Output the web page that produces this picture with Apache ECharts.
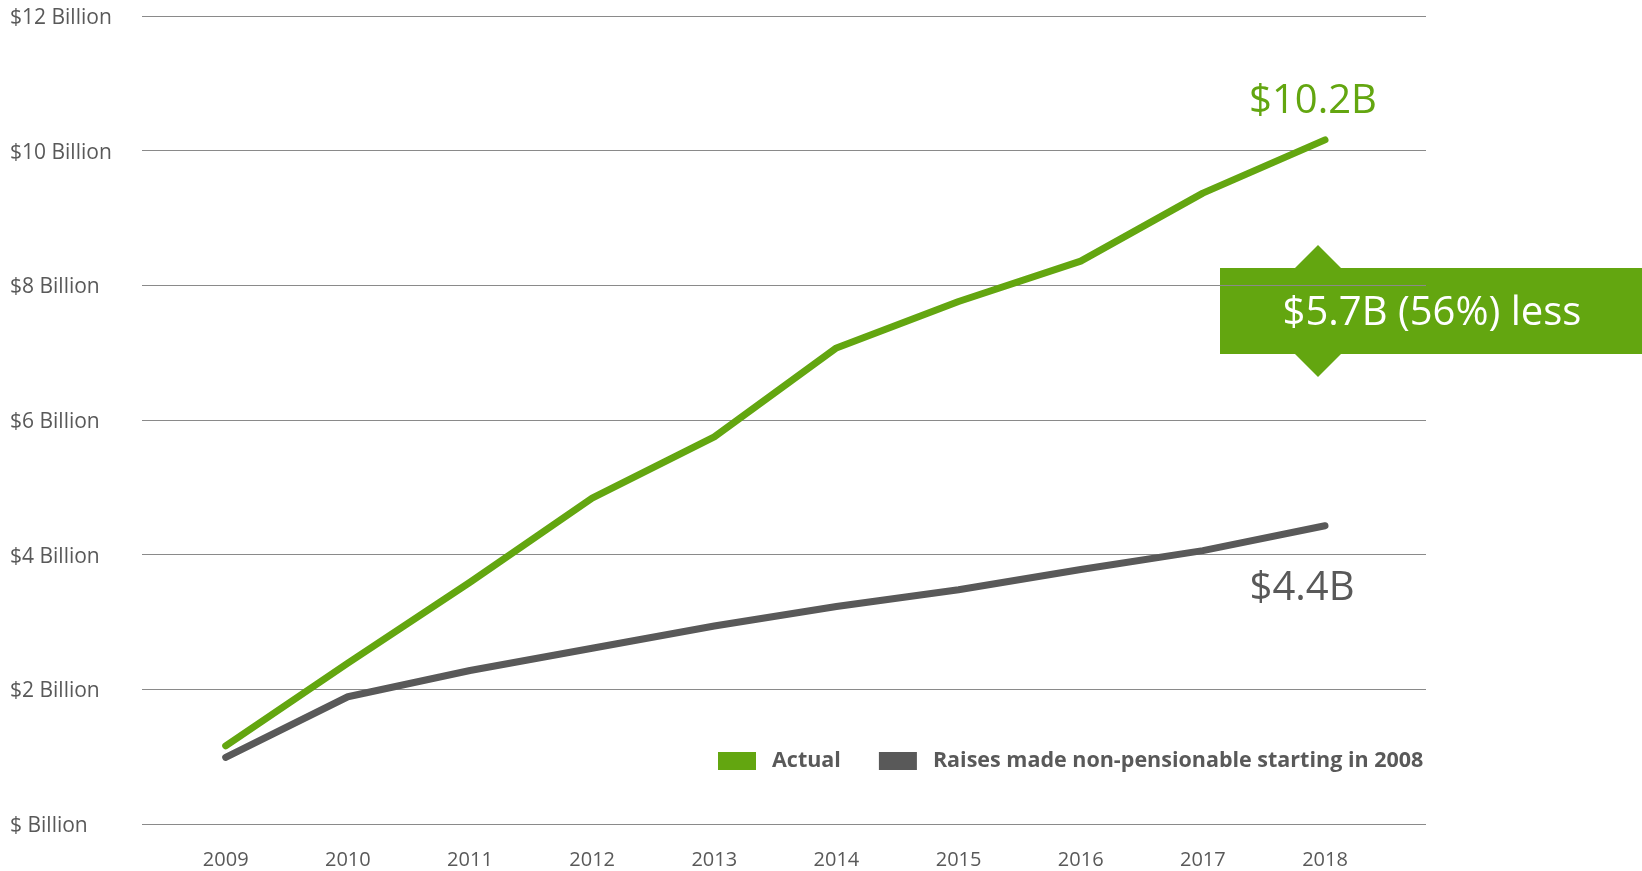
<!DOCTYPE html>
<html>
<head>
<meta charset="utf-8">
<title>Payroll cost: actual vs. non-pensionable raises</title>
<script src="https://cdn.jsdelivr.net/npm/echarts@6/dist/echarts.min.js"></script>
<style>
  html, body { margin: 0; padding: 0; background: #ffffff; }
  #chart { width: 1642px; height: 871px; }
</style>
</head>
<body>
<div id="chart"></div>
<script>
// Fiscal years on the horizontal axis
const years = ['2009', '2010', '2011', '2012', '2013', '2014', '2015', '2016', '2017', '2018'];

// Cost in billions of dollars
const actual = [1.16, 2.39, 3.59, 4.84, 5.75, 7.07, 7.76, 8.36, 9.37, 10.16];
const nonPensionable = [0.99, 1.89, 2.28, 2.61, 2.94, 3.23, 3.48, 3.78, 4.06, 4.43];

// Vertical axis ticks and their labels
const yTicks = [0, 2, 4, 6, 8, 10, 12];
const yTickLabels = ['$ Billion', '$2 Billion', '$4 Billion', '$6 Billion', '$8 Billion', '$10 Billion', '$12 Billion'];

const seriesNames = ['Actual', 'Raises made non-pensionable starting in 2008'];

const GREEN = '#63a610';
const GREY = '#595959';
const GRID_LINE = '#8a8a8a';
const FONT = '"Open Sans", "Noto Sans", sans-serif';

const last = years.length - 1;
const gap = actual[last] - nonPensionable[last];
const gapPct = Math.round(gap / actual[last] * 100);
const gapText = '$' + gap.toFixed(1) + 'B (' + gapPct + '%) less';

// Value label shown only at the last year of a line
const endLabel = (color, position, distance, dx) => ({
  show: true,
  position: position,
  distance: distance,
  offset: [dx, 0],
  color: color,
  fontFamily: FONT,
  fontSize: 40,
  lineHeight: 46,
  formatter: (p) => '$' + Number(p.value).toFixed(1) + 'B'
});

const withEndLabel = (values, label) =>
  values.map((v, i) => (i === last ? { value: v, label: label } : v));

const chart = echarts.init(document.getElementById('chart'), null, { renderer: 'canvas' });

chart.setOption({
  animation: false,
  backgroundColor: '#ffffff',
  textStyle: { fontFamily: FONT },
  grid: [
    // Frame for the horizontal rules and the dollar labels
    { left: 142, right: 216, top: 16, bottom: 47 },
    // Plot area for the two lines, one band per year
    { left: 164.63, right: 255.93, top: 16, bottom: 47 }
  ],
  xAxis: [
    {
      gridIndex: 0, type: 'value', min: 0, max: 1,
      axisLine: { show: false }, axisTick: { show: false },
      axisLabel: { show: false }, splitLine: { show: false }
    },
    {
      gridIndex: 1, type: 'category', data: years, boundaryGap: true,
      axisLine: { show: false }, axisTick: { show: false },
      axisLabel: {
        color: GREY, fontFamily: FONT, fontSize: 20, lineHeight: 20, margin: 26
      },
      splitLine: { show: false }
    }
  ],
  yAxis: [
    {
      gridIndex: 0, type: 'value', min: yTicks[0], max: yTicks[yTicks.length - 1], interval: 2,
      axisLine: { show: false }, axisTick: { show: false },
      axisLabel: {
        align: 'left', margin: 132, verticalAlign: 'middle',
        formatter: (v, i) => '{t|' + yTickLabels[i] + '}',
        rich: {
          t: {
            color: GREY, fontFamily: FONT, fontSize: 21, lineHeight: 22,
            padding: [4, 0, 0, 0]
          }
        }
      },
      splitLine: { show: true, lineStyle: { color: GRID_LINE, width: 1 } }
    },
    {
      gridIndex: 1, type: 'value', min: yTicks[0], max: yTicks[yTicks.length - 1], interval: 2,
      show: false, splitLine: { show: false }
    }
  ],
  legend: {
    left: 718, top: 750, padding: 0,
    itemWidth: 38, itemHeight: 18, itemGap: 38,
    icon: 'rect',
    data: seriesNames,
    textStyle: {
      color: GREY, fontFamily: FONT, fontSize: 21.5, fontWeight: 'bold',
      lineHeight: 18, padding: [0, 0, 0, 11]
    }
  },
  series: [
    {
      name: seriesNames[1], type: 'line',
      xAxisIndex: 1, yAxisIndex: 1,
      data: withEndLabel(nonPensionable, endLabel(GREY, 'bottom', 39, -23)),
      symbol: 'circle', symbolSize: 1, showSymbol: true,
      color: GREY,
      lineStyle: { color: GREY, width: 7, cap: 'round', join: 'round' },
      itemStyle: { color: GREY },
      z: 3
    },
    {
      name: seriesNames[0], type: 'line',
      xAxisIndex: 1, yAxisIndex: 1,
      data: withEndLabel(actual, endLabel(GREEN, 'top', 15, -12)),
      symbol: 'circle', symbolSize: 1, showSymbol: true,
      color: GREEN,
      lineStyle: { color: GREEN, width: 7, cap: 'round', join: 'round' },
      itemStyle: { color: GREEN },
      z: 4
    }
  ],
  graphic: [
    {
      type: 'group', z: 100,
      children: [
        {
          type: 'polygon',
          shape: { points: [[1318, 245], [1384, 311], [1318, 377], [1252, 311]] },
          style: { fill: GREEN }
        },
        {
          type: 'rect',
          shape: { x: 1220, y: 268, width: 422, height: 86 },
          style: { fill: GREEN }
        },
        {
          type: 'text',
          style: {
            text: gapText, x: 1432, y: 314,
            align: 'center', verticalAlign: 'middle',
            fill: '#ffffff', fontFamily: FONT, fontSize: 40
          }
        }
      ]
    }
  ]
});
</script>
</body>
</html>
